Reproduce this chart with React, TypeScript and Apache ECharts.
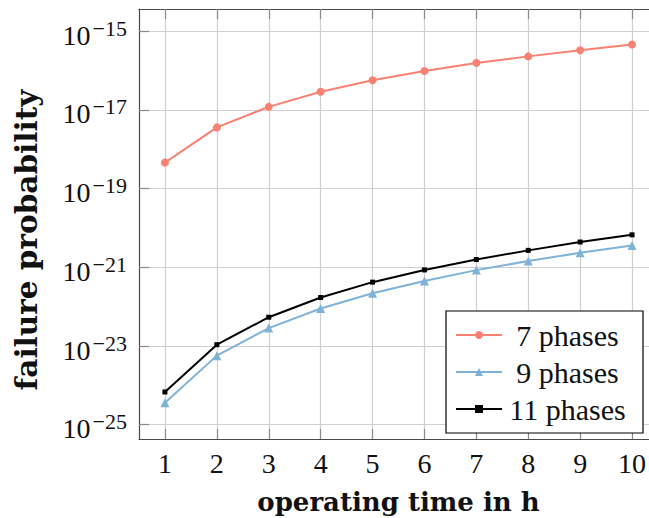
import React, { useEffect, useRef } from "react";
import * as echarts from "echarts";

// operating time (h)
const hours = [1, 2, 3, 4, 5, 6, 7, 8, 9, 10];

// failure probability per configuration
const phases7 = [4.6e-19, 3.6e-18, 1.2e-17, 2.9e-17, 5.7e-17, 9.8e-17, 1.57e-16, 2.3e-16, 3.3e-16, 4.6e-16];
const phases9 = [3.6e-25, 5.7e-24, 2.86e-23, 9.0e-23, 2.2e-22, 4.5e-22, 8.5e-22, 1.44e-21, 2.34e-21, 3.6e-21];
const phases11 = [6.8e-25, 1.08e-23, 5.4e-23, 1.71e-22, 4.2e-22, 8.6e-22, 1.58e-21, 2.7e-21, 4.4e-21, 6.7e-21];

// decade exponents shown on the y axis
const yExponents = [-25, -23, -21, -19, -17, -15];

const seriesNames = ["7 phases", "9 phases", "11 phases"];

const SERIF = "Liberation Serif";
const TITLE_FONT = "DejaVu Serif";

const toPoints = (vals: number[]) => hours.map((h, i) => [h, Math.log10(vals[i])]);

export default function App() {
  const ref = useRef<HTMLDivElement>(null);

  useEffect(() => {
    if (!ref.current) return;
    const chart = echarts.init(ref.current, null, { renderer: "svg" });

    const axisLine = { show: true, lineStyle: { color: "#4a4a4a", width: 1.2 } };
    const axisTick = { show: true, inside: true, length: 10, lineStyle: { color: "#8a8a8a", width: 1.2 } };
    const splitLine = { show: true, lineStyle: { color: "#cfcfcf", width: 1.2 } };

    chart.setOption({
      animation: false,
      backgroundColor: "#ffffff",
      textStyle: { fontFamily: SERIF },
      grid: { left: 139, top: 9, width: 519, height: 430, containLabel: false, outerBoundsMode: "none" },
      legend: {
        orient: "vertical",
        left: 446,
        top: 311,
        padding: [9, 15, 9, 9],
        itemWidth: 46,
        itemHeight: 10,
        itemGap: 7,
        borderColor: "#000",
        borderWidth: 1.2,
        backgroundColor: "#fff",
        data: seriesNames,
        formatter: "{c|{name}}",
        textStyle: {
          fontFamily: SERIF,
          fontSize: 30,
          color: "#111",
          rich: {
            c: { width: 121, align: "center", fontFamily: SERIF, fontSize: 30, lineHeight: 28, color: "#111" },
          },
        },
      },
      xAxis: [
        {
          type: "value",
          min: 0.5,
          max: 10.5,
          position: "bottom",
          axisLine,
          axisTick: { ...axisTick, customValues: hours },
          splitLine,
          axisLabel: {
            customValues: hours,
            margin: 10,
            fontFamily: SERIF,
            fontSize: 28,
            color: "#111",
          },
          name: "operating time in h",
          nameLocation: "middle",
          nameGap: 50,
          nameTextStyle: { fontFamily: TITLE_FONT, fontWeight: "bold", fontSize: 26, color: "#111" },
        },
        {
          type: "value",
          min: 0.5,
          max: 10.5,
          position: "top",
          axisLine,
          axisTick: { ...axisTick, customValues: hours },
          splitLine: { show: false },
          axisLabel: { show: false },
        },
      ],
      yAxis: {
        type: "value",
        min: -25.363,
        max: -14.434,
        axisLine,
        axisTick: { ...axisTick, customValues: yExponents },
        splitLine,
        axisLabel: {
          customValues: yExponents,
          margin: 12,
          padding: [8, 0, 0, 0],
          fontFamily: SERIF,
          fontSize: 28,
          color: "#111",
          formatter: (v: number) => `{b|10}{s|−${Math.abs(Math.round(v))}}`,
          rich: {
            b: { fontFamily: SERIF, fontSize: 28, lineHeight: 36, color: "#111" },
            s: {
              fontFamily: SERIF,
              fontSize: 22,
              lineHeight: 22,
              verticalAlign: "top",
              padding: [0, 0, 0, 2],
              color: "#111",
            },
          },
        },
        name: "failure probability",
        nameLocation: "middle",
        nameGap: 98,
        nameRotate: 90,
        nameTextStyle: {
          fontFamily: TITLE_FONT,
          fontWeight: "bold",
          fontSize: 29.5,
          color: "#111",
          padding: [0, 32, 0, 0],
        },
      },
      series: [
        {
          name: seriesNames[0],
          type: "line",
          data: toPoints(phases7),
          symbol: "circle",
          symbolSize: 8,
          color: "#fa8072",
          lineStyle: { width: 2, color: "#fa8072" },
          itemStyle: { color: "#fa8072" },
        },
        {
          name: seriesNames[1],
          type: "line",
          data: toPoints(phases9),
          symbol: "triangle",
          symbolSize: 9,
          color: "#7fb2d9",
          lineStyle: { width: 2, color: "#7fb2d9" },
          itemStyle: { color: "#7fb2d9" },
        },
        {
          name: seriesNames[2],
          type: "line",
          data: toPoints(phases11),
          symbol: "rect",
          symbolSize: 5,
          color: "#000",
          lineStyle: { width: 2, color: "#000" },
          itemStyle: { color: "#000" },
        },
      ],
    });

    return () => chart.dispose();
  }, []);

  return (
    <div
      ref={ref}
      style={{ position: "absolute", left: 0, top: 0, width: 649, height: 518, background: "#fff" }}
    />
  );
}
